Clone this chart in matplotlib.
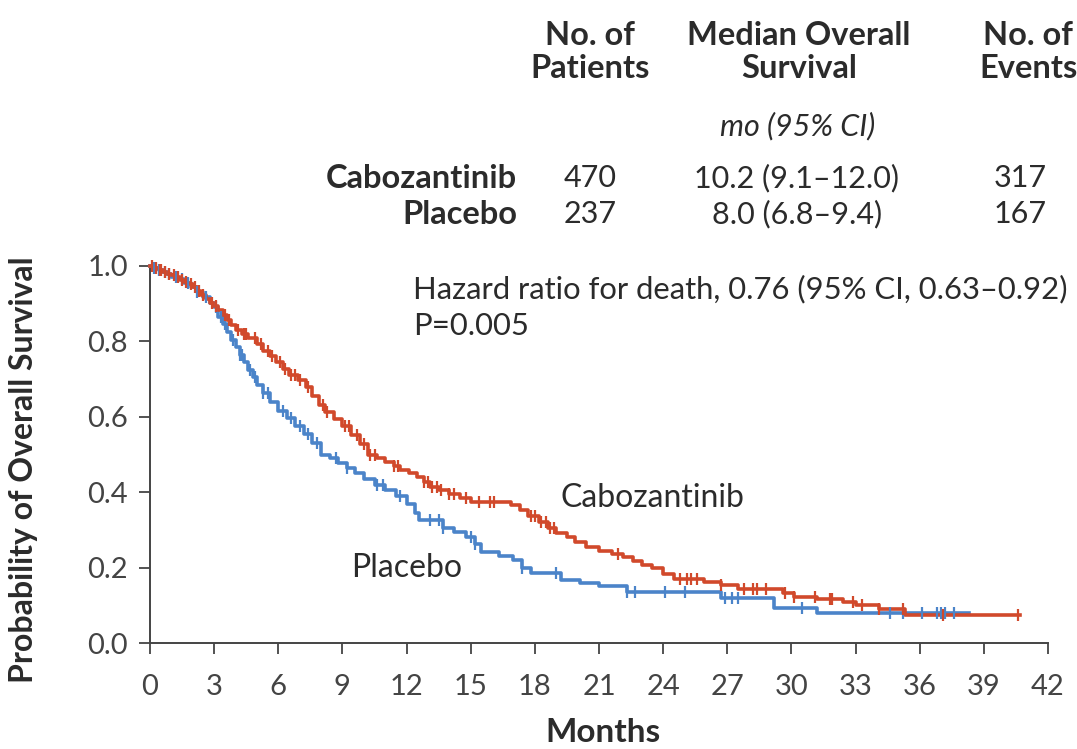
import numpy as np
import matplotlib.pyplot as plt

plt.rcParams['font.family'] = ['Lato', 'DejaVu Sans']

# Kaplan-Meier steps: event times (months) and survival after each step
cabo_times = [0.2, 0.4, 0.6, 0.8, 1.0, 1.2, 1.4, 1.6, 1.8, 2.0, 2.2, 2.4, 2.6, 2.8,
              3.0, 3.2, 3.4, 3.6, 3.8, 4.0, 4.3, 4.6, 5.0, 5.3, 5.6, 5.9, 6.2, 6.5,
              6.9, 7.3, 7.6, 7.9, 8.2, 8.6, 9.0, 9.4, 9.8, 10.2, 10.6, 11.0, 11.4,
              11.7, 12.1, 12.5, 12.8, 13.1, 13.5, 14.0, 14.5, 15.0, 16.9, 17.3,
              17.7, 18.2, 18.6, 19.0, 19.5, 19.9, 20.4, 21.0, 21.6, 22.1, 22.6,
              23.0, 23.5, 24.0, 24.5, 25.9, 26.7, 27.5, 29.6, 30.1, 31.2, 32.4,
              33.0, 34.1, 35.3]
cabo_surv = [0.995, 0.990, 0.985, 0.980, 0.975, 0.970, 0.963, 0.957, 0.951, 0.945,
             0.935, 0.924, 0.912, 0.903, 0.895, 0.882, 0.869, 0.856, 0.843, 0.830,
             0.820, 0.808, 0.792, 0.775, 0.760, 0.746, 0.728, 0.712, 0.697, 0.680,
             0.655, 0.630, 0.612, 0.594, 0.575, 0.551, 0.528, 0.500, 0.490, 0.480,
             0.470, 0.460, 0.450, 0.440, 0.427, 0.415, 0.405, 0.395, 0.385, 0.375,
             0.365, 0.352, 0.338, 0.320, 0.305, 0.292, 0.280, 0.268, 0.255, 0.245,
             0.237, 0.228, 0.218, 0.208, 0.198, 0.184, 0.170, 0.162, 0.154, 0.142,
             0.133, 0.123, 0.117, 0.110, 0.100, 0.089, 0.075]
cabo_end = 40.7
cabo_censored = [0.1, 0.3, 0.45, 0.5, 0.7, 0.9, 1.1, 1.3, 1.5, 1.7, 1.9, 2.1, 2.3,
                 2.5, 2.9, 3.1, 3.5, 3.7, 4.1, 4.4, 4.5, 4.9, 5.2, 5.5, 5.7, 6.1,
                 6.3, 6.6, 6.8, 7.0, 7.4, 8.1, 8.3, 9.1, 9.3, 9.7, 10.0, 10.3, 10.5,
                 11.4, 11.6, 12.8, 13.0, 13.2, 13.4, 13.6, 14.0, 14.2, 14.8, 15.4,
                 15.9, 16.1, 17.8, 18.0, 18.3, 18.5, 18.7, 18.9, 21.9, 24.8, 25.1,
                 25.3, 25.6, 26.7, 27.8, 28.2, 28.4, 28.8, 29.7, 30.1, 31.1, 31.8,
                 31.9, 32.9, 33.3, 34.1, 35.2, 37.1, 40.6]

plac_times = [0.2, 0.4, 0.6, 0.8, 1.0, 1.3, 1.6, 1.9, 2.2, 2.5, 2.8, 3.0, 3.2, 3.4,
              3.6, 3.8, 4.0, 4.2, 4.4, 4.6, 4.8, 5.0, 5.3, 5.6, 6.0, 6.4, 6.8, 7.2,
              7.6, 8.0, 8.4, 8.8, 9.2, 9.6, 10.0, 10.5, 11.0, 11.5, 12.0, 12.4,
              12.6, 13.7, 14.2, 14.8, 15.2, 15.5, 16.3, 17.0, 17.4, 17.8, 19.2,
              20.1, 21.0, 22.3, 26.7, 29.2, 31.2]
plac_surv = [0.996, 0.990, 0.985, 0.978, 0.972, 0.965, 0.955, 0.945, 0.932, 0.918,
             0.902, 0.890, 0.865, 0.845, 0.825, 0.805, 0.785, 0.765, 0.745, 0.725,
             0.705, 0.685, 0.662, 0.640, 0.615, 0.597, 0.575, 0.555, 0.530, 0.500,
             0.490, 0.478, 0.465, 0.450, 0.435, 0.420, 0.405, 0.390, 0.368, 0.345,
             0.325, 0.305, 0.295, 0.280, 0.262, 0.242, 0.232, 0.220, 0.200, 0.185,
             0.167, 0.158, 0.150, 0.135, 0.120, 0.093, 0.080]
plac_end = 38.3
plac_censored = [0.2, 0.4, 0.7, 0.9, 1.2, 1.5, 1.8, 2.2, 2.6, 3.1, 3.3, 3.5, 3.9,
                 4.2, 4.3, 4.7, 4.9, 5.3, 5.5, 6.2, 6.6, 7.0, 7.4, 7.8, 8.7, 9.2,
                 10.6, 10.9, 11.7, 13.1, 13.5, 13.7, 15.0, 15.2, 17.4, 19.0, 22.3,
                 22.7, 24.1, 25.0, 26.9, 27.2, 27.5, 30.5, 34.6, 35.2, 36.1, 36.8,
                 37.0, 37.2, 37.6]

# summary table
groups = ['Cabozantinib', 'Placebo']
n_patients = ['470', '237']
median_os = ['10.2 (9.1\u201312.0)', '8.0 (6.8\u20139.4)']
n_events = ['317', '167']

red = '#d1492b'
blue = '#4b84c9'
txt = '#2b2b2b'

W, H = 1077, 749
fig = plt.figure(figsize=(W / 100, H / 100), dpi=100)
ax = fig.add_axes([150 / W, 1 - 643 / H, 898 / W, 377 / H])


def km_curve(times, surv, end, censored, color):
    t = np.r_[0.0, times, end]
    s = np.r_[1.0, surv, surv[-1]]
    ax.step(t, s, where='post', color=color, lw=2.6, clip_on=False, zorder=3)
    idx = np.searchsorted(t, censored, side='right') - 1
    ax.plot(censored, s[idx], ls='none', marker='|', ms=9, mew=1.6,
            color=color, clip_on=False, zorder=4)


km_curve(plac_times, plac_surv, plac_end, plac_censored, blue)
km_curve(cabo_times, cabo_surv, cabo_end, cabo_censored, red)

ax.set_xlim(0, 42)
ax.set_ylim(0, 1.0)
ax.set_xticks(np.arange(0, 43, 3))
ax.set_yticks(np.arange(0, 1.01, 0.2))
ax.set_yticklabels([f'{v:.1f}' for v in np.arange(0, 1.01, 0.2)])
for side in ['top', 'right']:
    ax.spines[side].set_visible(False)
for side in ['left', 'bottom']:
    ax.spines[side].set_color('#444444')
    ax.spines[side].set_linewidth(1.4)
ax.tick_params(axis='both', direction='out', length=8, width=1.3, color='#444444',
               labelcolor='#444444')
ax.tick_params(axis='y', labelsize=21, pad=8)
ax.tick_params(axis='x', labelsize=21, pad=14)

ax.set_xlabel('Months', fontsize=24, fontweight='bold', color=txt)
ax.xaxis.set_label_coords(0.505, -0.2)
ax.set_ylabel('Probability of Overall Survival', fontsize=23, fontweight='bold',
              color=txt)
ax.yaxis.set_label_coords(-0.125, 0.46)

ax.text(19.2, 0.385, 'Cabozantinib', fontsize=23, color=txt, va='center')
ax.text(9.4, 0.20, 'Placebo', fontsize=23, color=txt, va='center')
ax.text(12.3, 0.89, 'Hazard ratio for death, 0.76 (95% CI, 0.63\u20130.92)\nP=0.005',
        fontsize=22.3, color=txt, va='center', linespacing=1.4)


def ftext(x, y, s, **kw):
    fig.text(x / W, 1 - y / H, s, color=txt, **kw)


# header block
head = dict(fontsize=23.5, fontweight='bold', ha='center', va='center', linespacing=1.2)
ftext(590, 52, 'No. of\nPatients', **head)
ftext(799, 52, 'Median Overall\nSurvival', **head)
ftext(1028, 52, 'No. of\nEvents', **head)
ftext(798, 126, 'mo (95% CI)', fontsize=22, style='italic', ha='center', va='center')
for i, g in enumerate(groups):
    y = 178 + 36 * i
    ftext(517, y, g, fontsize=23.5, fontweight='bold', ha='right', va='center')
    ftext(590, y, n_patients[i], fontsize=22, ha='center', va='center')
    ftext(797, y, median_os[i], fontsize=22, ha='center', va='center')
    ftext(1020, y, n_events[i], fontsize=22, ha='center', va='center')

fig.savefig('out.png', dpi=100)
